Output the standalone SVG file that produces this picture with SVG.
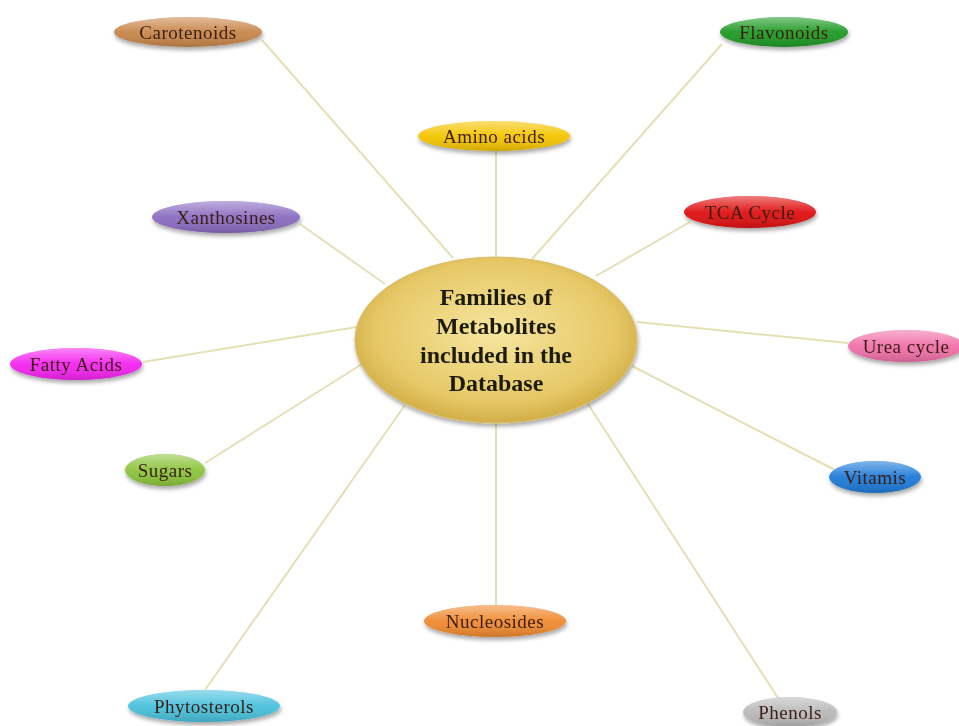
<svg xmlns="http://www.w3.org/2000/svg" width="959" height="726" viewBox="0 0 959 726">
<defs>
<filter id="sh" x="-20%" y="-40%" width="140%" height="180%">
<feGaussianBlur in="SourceAlpha" stdDeviation="2"/>
<feOffset dx="1" dy="3" result="b"/>
<feComponentTransfer><feFuncA type="linear" slope="0.35"/></feComponentTransfer>
<feMerge><feMergeNode/><feMergeNode in="SourceGraphic"/></feMerge>
</filter>
<linearGradient id="gloss" x1="0" y1="0" x2="0" y2="1">
<stop offset="0" stop-color="#fff" stop-opacity="0.45"/>
<stop offset="0.5" stop-color="#fff" stop-opacity="0.05"/>
<stop offset="1" stop-color="#000" stop-opacity="0.15"/>
</linearGradient>
<radialGradient id="gc" cx="0.5" cy="0.45" r="0.6">
<stop offset="0" stop-color="#f6e6a0"/>
<stop offset="0.7" stop-color="#e6c866"/>
<stop offset="1" stop-color="#c9a43a"/>
</radialGradient>
</defs>
<style>
.lbl{font-family:"Liberation Serif",serif;font-size:19px;letter-spacing:0.5px;text-anchor:middle;dominant-baseline:central;fill:#3a1f12}
.ctr{font-family:"Liberation Serif",serif;font-size:24px;font-weight:bold;text-anchor:middle;fill:#1e1a10}
.gl{fill:url(#gloss)}
#connectors line{stroke:#e6dfb4;stroke-width:2}
</style>
<rect width="959" height="726" fill="#fff"/>
<g id="connectors">
<line x1="262" y1="40" x2="453" y2="258"/>
<line x1="722" y1="44" x2="532" y2="259"/>
<line x1="496" y1="151" x2="496" y2="257"/>
<line x1="300" y1="224" x2="385" y2="284"/>
<line x1="690" y1="222" x2="596" y2="276"/>
<line x1="143" y1="362" x2="357" y2="327"/>
<line x1="848" y1="343" x2="637" y2="322"/>
<line x1="205" y1="463" x2="362" y2="364"/>
<line x1="835" y1="470" x2="632" y2="366"/>
<line x1="496" y1="605" x2="496" y2="423"/>
<line x1="205" y1="690" x2="405" y2="405"/>
<line x1="778" y1="698" x2="588" y2="404"/>
</g>
<g id="center" filter="url(#sh)">
<ellipse cx="496" cy="340" rx="141" ry="83" fill="url(#gc)" stroke="#d8bd68" stroke-width="1"/>
<text class="ctr" x="496" y="305">Families of</text>
<text class="ctr" x="496" y="334">Metabolites</text>
<text class="ctr" x="496" y="363">included in the</text>
<text class="ctr" x="496" y="391">Database</text>
</g>
<g id="carotenoids" filter="url(#sh)"><ellipse cx="188" cy="32" rx="74" ry="15" fill="#c8864a"/><ellipse class="gl" cx="188" cy="32" rx="74" ry="15"/><text class="lbl" x="188" y="32">Carotenoids</text></g>
<g id="flavonoids" filter="url(#sh)"><ellipse cx="784" cy="32" rx="64" ry="15" fill="#1f9a24"/><ellipse class="gl" cx="784" cy="32" rx="64" ry="15"/><text class="lbl" x="784" y="32">Flavonoids</text></g>
<g id="amino" filter="url(#sh)"><ellipse cx="494" cy="136" rx="76" ry="15" fill="#f4c400"/><ellipse class="gl" cx="494" cy="136" rx="76" ry="15"/><text class="lbl" x="494" y="136">Amino acids</text></g>
<g id="xanthosines" filter="url(#sh)"><ellipse cx="226" cy="217" rx="74" ry="16" fill="#8a6cc0"/><ellipse class="gl" cx="226" cy="217" rx="74" ry="16"/><text class="lbl" x="226" y="217">Xanthosines</text></g>
<g id="tca" filter="url(#sh)"><ellipse cx="750" cy="212" rx="66" ry="16" fill="#e01212"/><ellipse class="gl" cx="750" cy="212" rx="66" ry="16"/><text class="lbl" x="750" y="212">TCA Cycle</text></g>
<g id="fatty" filter="url(#sh)"><ellipse cx="76" cy="364" rx="66" ry="16" fill="#f424f0"/><ellipse class="gl" cx="76" cy="364" rx="66" ry="16"/><text class="lbl" x="76" y="364">Fatty Acids</text></g>
<g id="urea" filter="url(#sh)"><ellipse cx="906" cy="346" rx="58" ry="16" fill="#f070a8"/><ellipse class="gl" cx="906" cy="346" rx="58" ry="16"/><text class="lbl" x="906" y="346">Urea cycle</text></g>
<g id="sugars" filter="url(#sh)"><ellipse cx="165" cy="470" rx="40" ry="16" fill="#8cc43c"/><ellipse class="gl" cx="165" cy="470" rx="40" ry="16"/><text class="lbl" x="165" y="470">Sugars</text></g>
<g id="vitamis" filter="url(#sh)"><ellipse cx="875" cy="477" rx="46" ry="16" fill="#1e7ad8"/><ellipse class="gl" cx="875" cy="477" rx="46" ry="16"/><text class="lbl" x="875" y="477">Vitamis</text></g>
<g id="nucleosides" filter="url(#sh)"><ellipse cx="495" cy="621" rx="71" ry="16" fill="#f08a30"/><ellipse class="gl" cx="495" cy="621" rx="71" ry="16"/><text class="lbl" x="495" y="621">Nucleosides</text></g>
<g id="phytosterols" filter="url(#sh)"><ellipse cx="204" cy="706" rx="76" ry="16" fill="#48c0dc"/><ellipse class="gl" cx="204" cy="706" rx="76" ry="16"/><text class="lbl" x="204" y="706">Phytosterols</text></g>
<g id="phenols" filter="url(#sh)"><ellipse cx="790" cy="712" rx="47" ry="15" fill="#b8b8b8"/><ellipse class="gl" cx="790" cy="712" rx="47" ry="15"/><text class="lbl" x="790" y="712">Phenols</text></g>
</svg>
